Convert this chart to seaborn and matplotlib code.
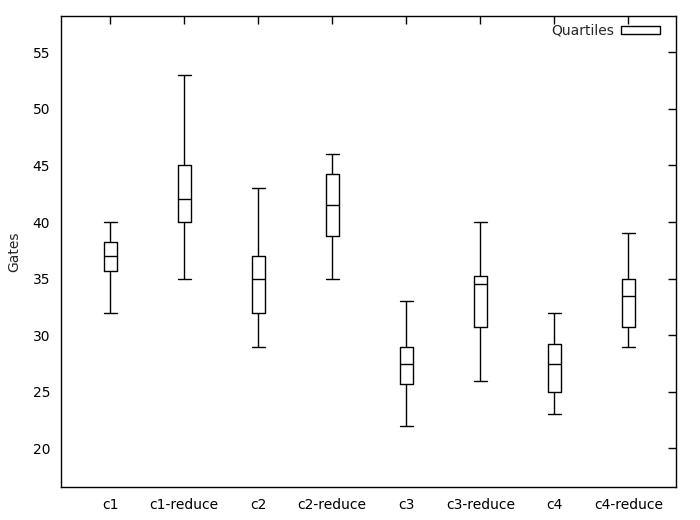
import pandas as pd
import seaborn as sns
import matplotlib.pyplot as plt
from matplotlib.patches import Rectangle

# five-number summary per configuration
categories = ["c1", "c1-reduce", "c2", "c2-reduce", "c3", "c3-reduce", "c4", "c4-reduce"]
whisker_low = [32, 35, 29, 35, 22, 26, 23, 29]
q1 = [35.7, 40, 32, 38.75, 25.7, 30.75, 25, 30.75]
median = [37, 42, 35, 41.5, 27.5, 34.5, 27.5, 33.5]
q3 = [38.2, 45, 37, 44.25, 29, 35.25, 29.25, 35]
whisker_high = [40, 53, 43, 46, 33, 40, 32, 39]
y_ticks = [20, 25, 30, 35, 40, 45, 50, 55]

# long form table: five points per category give exact quartiles
rows = []
for i, cat in enumerate(categories):
    for v in (whisker_low[i], q1[i], median[i], q3[i], whisker_high[i]):
        rows.append({"config": cat, "Gates": v})
df = pd.DataFrame(rows)

sns.set_style("white")
plt.rcParams['font.family'] = ['DejaVu Sans']

fig = plt.figure(figsize=(7, 5.2), dpi=100)
ax = fig.add_axes([0.0876, 0.064, 0.8777, 0.9052])

sns.boxplot(data=df, x="config", y="Gates", order=categories, ax=ax,
            whis=(0, 100), width=0.18, fill=False, color="black",
            linewidth=1.0, showfliers=False, capwidths=0.18,
            medianprops={"color": "black", "linewidth": 1.0})

ax.set_xlim(-0.66, 7.64)
ax.set_ylim(16.62, 58.2)
ax.set_yticks(y_ticks)
ax.set_xlabel("")
ax.set_ylabel("Gates", fontsize=10, labelpad=8)
ax.tick_params(direction="in", top=True, right=True, length=6, width=1,
               labelsize=10, colors="black", pad=8)
ax.tick_params(axis="x", pad=8)
for s in ax.spines.values():
    s.set_color("black")
    s.set_linewidth(1.0)

handle = Rectangle((0, 0), 1, 1, facecolor="white", edgecolor="black", linewidth=1.0)
ax.legend([handle], ["Quartiles"], loc="upper right", bbox_to_anchor=(0.99, 1.004),
          frameon=False, markerfirst=False, handlelength=2.8, handleheight=0.5,
          handletextpad=0.5, fontsize=10, borderaxespad=0.3)

fig.savefig("out.png", dpi=100)
